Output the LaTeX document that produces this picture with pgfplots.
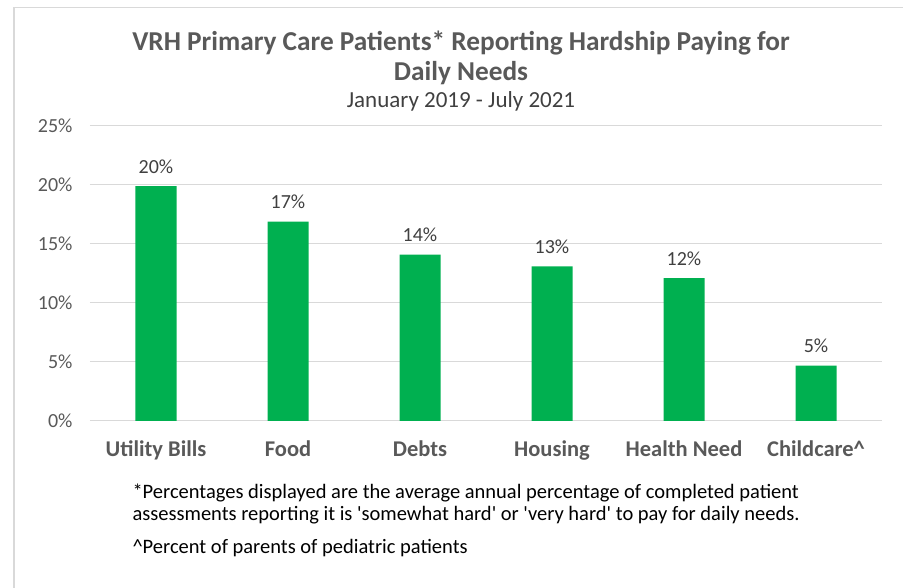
\documentclass[border=0pt]{standalone}
\usepackage{fontspec}
\setmainfont{Carlito}
\usepackage{pgfplots}
\pgfplotsset{compat=1.18}
\definecolor{barg}{HTML}{00B050}
\definecolor{gridc}{HTML}{D9D9D9}
\definecolor{ticktxt}{HTML}{595959}
\definecolor{labtxt}{HTML}{404040}
\newcommand{\sq}{\textquotesingle}
\begin{document}
\begin{tikzpicture}[x=1pt,y=1pt]
\path[use as bounding box] (0,0) rectangle (903,588);
\draw[gridc, line width=1.2pt] (14,0) -- (14,580.5) -- (903,580.5);
% titles
\node[font=\fontsize{27.3}{30}\selectfont\bfseries, text=ticktxt] at (461,545) {VRH Primary Care Patients* Reporting Hardship Paying for};
\node[font=\fontsize{27.3}{30}\selectfont\bfseries, text=ticktxt] at (461,515) {Daily Needs};
\node[font=\fontsize{23}{26}\selectfont, text=labtxt] at (461,487) {January 2019 - July 2021};
\begin{axis}[
  at={(90pt,167pt)}, anchor=south west,
  scale only axis,
  width=792pt, height=295pt,
  xmin=-0.5, xmax=5.5,
  ymin=0, ymax=25,
  ytick={0,5,10,15,20,25},
  yticklabel={\pgfmathprintnumber{\tick}\%},
  /pgf/number format/assume math mode=true,
  xtick=data,
  xticklabels={Utility Bills, Food, Debts, Housing, Health Need, Childcare\^{}},
  axis line style={draw=none},
  axis x line*=bottom,
  ymajorgrids,
  grid style={gridc, line width=1pt},
  major tick length=0pt,
  tick label style={text=ticktxt},
  yticklabel style={font=\fontsize{20}{24}\selectfont, xshift=-14pt},
  xticklabel style={font=\fontsize{22.5}{25}\selectfont\bfseries, yshift=-16pt},
  ybar, bar width=41pt,
  point meta=y,
  nodes near coords={\pgfmathprintnumber[fixed,precision=0]{\pgfplotspointmeta}\%},
  every node near coord/.append style={font=\fontsize{20}{24}\selectfont, text=labtxt, yshift=9pt},
  clip=false,
]
\addplot[fill=barg, draw=none] coordinates {
  (0,19.9) (1,16.9) (2,14.1) (3,13.1) (4,12.1) (5,4.7)
};
\end{axis}
% footnotes
\node[anchor=west, font=\fontsize{20.5}{24}\selectfont, text=black] at (129,95) {*Percentages displayed are the average annual percentage of completed patient};
\node[anchor=west, font=\fontsize{20.5}{24}\selectfont, text=black] at (129,73) {assessments reporting it is \sq somewhat hard\sq{} or \sq very hard\sq{} to pay for daily needs.};
\node[anchor=west, font=\fontsize{20.5}{24}\selectfont, text=black] at (129,40) {\^{}Percent of parents of pediatric patients};
\end{tikzpicture}
\end{document}
